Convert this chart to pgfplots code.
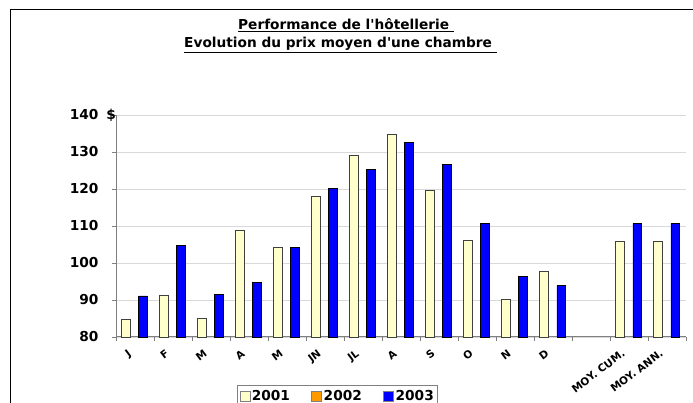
\documentclass[border=0pt]{standalone}
\usepackage{fontspec}
\newfontfamily\vf{DejaVu Sans}
\usepackage{pgfplots}
\pgfplotsset{compat=1.18}
\definecolor{lyel}{HTML}{FFFFCC}
\definecolor{bblue}{HTML}{0000FF}
\definecolor{orng}{HTML}{FF9900}
\definecolor{gridc}{HTML}{D9D9D9}
\definecolor{axc}{HTML}{808080}
\pgfplotsset{sqleg/.style={legend image code/.code={\draw[##1,draw=axc,line width=0.8pt] (0pt,-5pt) rectangle (10pt,5pt);}}}
\begin{document}
\vf\bfseries
\begin{tikzpicture}[x=1pt,y=1pt]
\path[use as bounding box] (0,0) rectangle (693,403);
\draw[black, line width=1pt] (10,-20) -- (10,393) -- (720,393);
\node[font=\vf\bfseries\fontsize{13.7}{16}\selectfont, anchor=base] at (346,373) {\underline{Performance de l'hôtellerie\ }};
\node[font=\vf\bfseries\fontsize{13.7}{16}\selectfont, anchor=base] at (340.5,355) {\underline{Evolution du prix moyen d'une chambre\ }};
\begin{axis}[
  at={(116pt,66pt)}, anchor=south west,
  scale only axis, width=570pt, height=222pt,
  xmin=-0.5, xmax=14.5, ymin=80, ymax=140,
  axis x line*=bottom, axis y line*=left,
  axis line style={axc, line width=1pt},
  ytick={80,90,...,140},
  ymajorgrids, grid style={gridc, line width=0.8pt},
  xtick={-0.33,0.67,1.67,2.67,3.67,4.67,5.67,6.67,7.67,8.67,9.67,10.67,11.67,12.67,13.67},
  xticklabels={J,F,M,A,M,JN,JL,A,S,O,N,D,,MOY. CUM.,MOY. ANN.},
  major x tick style={draw=none},
  minor xtick={-0.5,0.5,...,14.5},
  tick align=outside,
  major tick length=4pt, minor tick length=4pt,
  tick style={axc, line width=0.8pt},
  /pgf/number format/assume math mode=true,
  yticklabel style={font=\vf\bfseries\fontsize{13.7}{16}\selectfont, anchor=east, xshift=-10pt},
  xticklabel style={font=\vf\bfseries\fontsize{10.5}{12}\selectfont, rotate=37, anchor=north east, inner sep=1pt, yshift=-8pt},
  legend columns=3,
  legend style={at={(0.2123,-0.216)}, anchor=north west, draw=axc, line width=1pt,
    font=\vf\bfseries\fontsize{13.7}{16}\selectfont, inner xsep=2pt, inner ysep=3pt,
    nodes={inner xsep=1.5pt},
    /tikz/every even column/.append style={column sep=20pt}},
  clip=false,
]
\addplot[ybar, bar width=0.225, bar shift=-0.235, fill=lyel, draw=black!75, line width=0.8pt, sqleg] coordinates {
(0,84.7) (1,91.3) (2,84.9) (3,108.7) (4,104.3) (5,118.0) (6,129.2) (7,134.7) (8,119.6) (9,106.2) (10,90.2) (11,97.8) (13,105.8) (14,105.8)};
\addlegendentry{2001}
\addlegendimage{sqleg, fill=orng}
\addlegendentry{2002}
\addplot[ybar, bar width=0.225, bar shift=0.215, fill=bblue, draw=black, line width=0.8pt, sqleg] coordinates {
(0,91.1) (1,104.75) (2,91.5) (3,94.8) (4,104.3) (5,120.2) (6,125.3) (7,132.6) (8,126.6) (9,110.7) (10,96.4) (11,93.9) (13,110.7) (14,110.7)};
\addlegendentry{2003}
\node[font=\vf\bfseries\fontsize{13.7}{16}\selectfont, anchor=east, inner sep=0pt] at (axis cs:-0.5,140) {\$\hspace{1pt}};
\end{axis}
\end{tikzpicture}
\end{document}
